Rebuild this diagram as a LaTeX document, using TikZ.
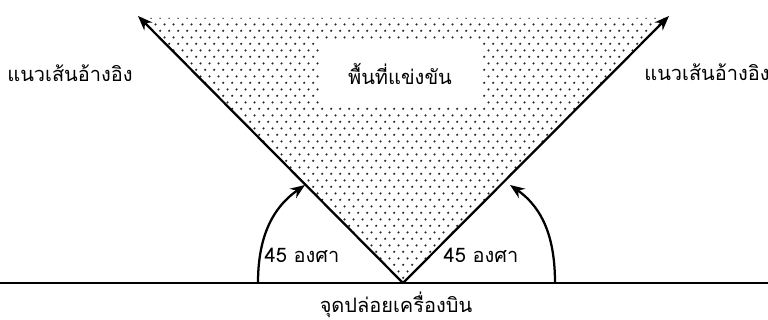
\documentclass[tikz,border=0pt]{standalone}
\usepackage{fontspec}
\setmainfont[Script=Thai]{Loma}
\usetikzlibrary{arrows.meta,patterns}
\pgfdeclarepatternformonly{zonedots}{\pgfpointorigin}{\pgfqpoint{7pt}{10pt}}{\pgfqpoint{7pt}{10pt}}{
  \pgfpathcircle{\pgfqpoint{1.75pt}{2.5pt}}{0.95pt}
  \pgfpathcircle{\pgfqpoint{5.25pt}{7.5pt}}{0.95pt}
  \pgfusepath{fill}
}
\begin{document}
\begin{tikzpicture}[x=0.75pt, y=0.75pt, font=\fontsize{15}{18}\selectfont,
    refline/.style={line width=1.7pt, -{Stealth[length=11pt, width=8.5pt]}},
    anglearc/.style={line width=1.7pt, -{Stealth[length=11pt, width=8.5pt]}}]
    \useasboundingbox (0,0) rectangle (768,320);
    \coordinate (launch) at (403,37);
    \coordinate (lefttip) at (138,304);
    \coordinate (righttip) at (669,304);
    \coordinate (groundl) at (0,37);
    \coordinate (groundr) at (768,37);
    \coordinate (arcla) at (258,37);
    \coordinate (arclb) at (305,135);
    \coordinate (arcra) at (555,37);
    \coordinate (arcrb) at (510,135);

    \fill[pattern=zonedots, pattern color=black!85] (launch) -- (141,302) -- (666,302) -- cycle;
    \node (zone) [fill=white, minimum width=122pt, minimum height=49pt] at (400,246) {พื้นที่แข่งขัน};
    \node (refl) at (70,247) {แนวเส้นอ้างอิง};
    \node (refr) at (707,248) {แนวเส้นอ้างอิง};
    \node (angl) at (302,65) {45 องศา};
    \node (angr) at (481,65) {45 องศา};
    \node (drop) at (396,15) {จุดปล่อยเครื่องบิน};

    \draw[line width=1.3pt] (groundl) -- (groundr);
    \draw[refline] (launch) -- (lefttip);
    \draw[refline] (launch) -- (righttip);
    \draw[anglearc] (arcla) to[out=90, in=215] (arclb);
    \draw[anglearc] (arcra) to[out=90, in=-35] (arcrb);
\end{tikzpicture}
\end{document}
